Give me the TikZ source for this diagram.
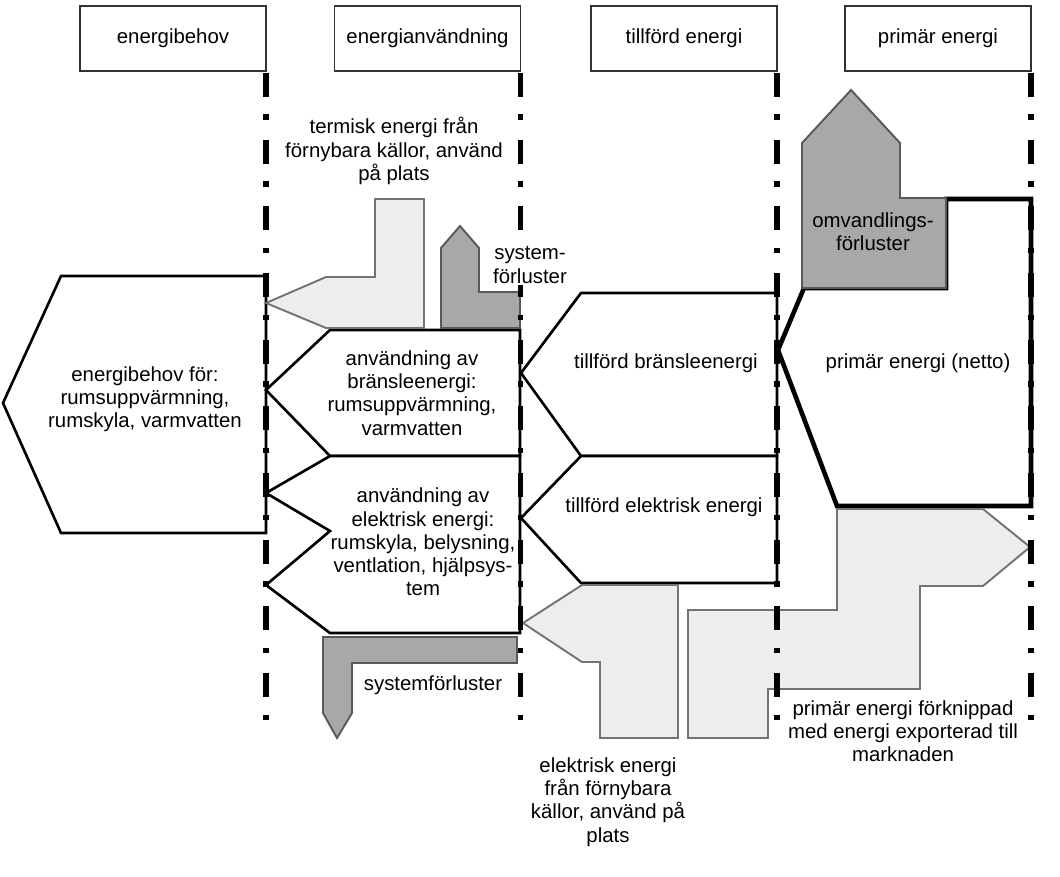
\documentclass[tikz,border=0pt]{standalone}
\usepackage{fontspec}
\setmainfont{Liberation Sans}

\newcommand{\txt}{\fontsize{11.6pt}{13.2pt}\selectfont}
\tikzset{
  rubrik/.style={draw=black!80, line width=1pt, minimum width=3.72cm, minimum height=1.3cm, inner sep=0pt, outer sep=0pt, font=\txt},
  grans/.style={line width=3.2pt, dash pattern=on 0.48cm off 0.35cm on 0.11cm off 0.394cm},
  vit/.style={draw, line width=1.5pt, fill=white},
  ljus/.style={draw=black!55, line width=1.1pt, fill=black!7},
  mork/.style={draw=black!65, line width=1.1pt, fill=black!34},
  etikett/.style={align=center, inner sep=0pt, font=\txt}
}

\begin{document}
\begin{tikzpicture}[x=0.02cm, y=-0.02cm, line join=miter]
  \useasboundingbox (0,0) rectangle (1060,876);
  % rubriker
  \node[rubrik] (behov) at (173,38.5) {energibehov};
  \node[rubrik] (anv) at (427.5,38.5) {energianvändning};
  \node[rubrik] (tillf) at (684,38.5) {tillförd energi};
  \node[rubrik] (prim) at (938,38.5) {primär energi};
  % vita pilar
  \draw[vit] (266,276) -- (61,276) -- (3,403) -- (61,533) -- (266,533) -- cycle;
  \draw[vit] (520,330) -- (330,330) -- (266,390) -- (330,456) -- (520,456) -- cycle;
  \draw[vit] (520,456) -- (330,456) -- (266,493) -- (330,531) -- (266,585) -- (330,633) -- (520,633) -- cycle;
  \draw[vit] (777,293) -- (581,293) -- (521,373) -- (581,456) -- (777,456) -- cycle;
  \draw[vit] (777,456) -- (581,456) -- (521,518) -- (581,583) -- (777,583) -- cycle;
  \draw[vit, line width=2.6pt] (946,199) -- (1031,199) -- (1031,506) -- (837,506) -- (778,350) -- (804,288) -- (946,288) -- cycle;
  % grå pilar
  \draw[ljus] (424,199) -- (375,199) -- (375,277) -- (326,277) -- (266,303) -- (326,328) -- (424,328) -- cycle;
  \draw[mork] (460,226) -- (479,248) -- (479,292) -- (520,292) -- (520,328) -- (441,328) -- (441,248) -- cycle;
  \draw[mork] (802,288) -- (802,143) -- (851,90) -- (900,143) -- (900,198) -- (946,198) -- (946,288) -- cycle;
  \draw[mork] (323,637) -- (517,637) -- (517,663) -- (352,663) -- (352,713) -- (337,738) -- (323,713) -- cycle;
  \draw[ljus] (523,623) -- (582,585) -- (678,585) -- (678,738) -- (600,738) -- (600,662) -- (582,662) -- cycle;
  \draw[ljus] (837,509) -- (983,509) -- (1030,547) -- (983,586) -- (920,586) -- (920,689) -- (768,689) -- (768,738) -- (688,738) -- (688,610) -- (837,610) -- cycle;
  % gränser
  \foreach \n in {behov,anv,tillf,prim}
    \draw[grans] ([yshift=-0.04cm]\n.south east) -- ++(0,647);
  % texter
  \node[etikett] (termisk) at (394,151) {termisk energi från\\förnybara källor, använd\\på plats};
  \node[etikett, fill=white, inner sep=1pt] (sysupp) at (530,265) {system-\\förluster};
  \node[etikett] (omv) at (873,232) {omvandlings-\\förluster};
  \node[etikett] (behovtxt) at (145,399) {energibehov för:\\rumsuppvärmning,\\rumskyla, varmvatten};
  \node[etikett] (bransle) at (412,393) {användning av\\bränsleenergi:\\rumsuppvärmning,\\varmvatten};
  \node[etikett] (elanv) at (423,542) {användning av\\elektrisk energi:\\rumskyla, belysning,\\ventlation, hjälpsys-\\tem};
  \node[etikett] (tbransle) at (666,363) {tillförd bränsleenergi};
  \node[etikett] (tel) at (664,507) {tillförd elektrisk energi};
  \node[etikett] (netto) at (918,363) {primär energi (netto)};
  \node[etikett] (sysned) at (433,685) {systemförluster};
  \node[etikett] (elforn) at (608,802) {elektrisk energi\\från förnybara\\källor, använd på\\plats};
  \node[etikett] (export) at (903,731) {primär energi förknippad\\med energi exporterad till\\marknaden};
\end{tikzpicture}
\end{document}
